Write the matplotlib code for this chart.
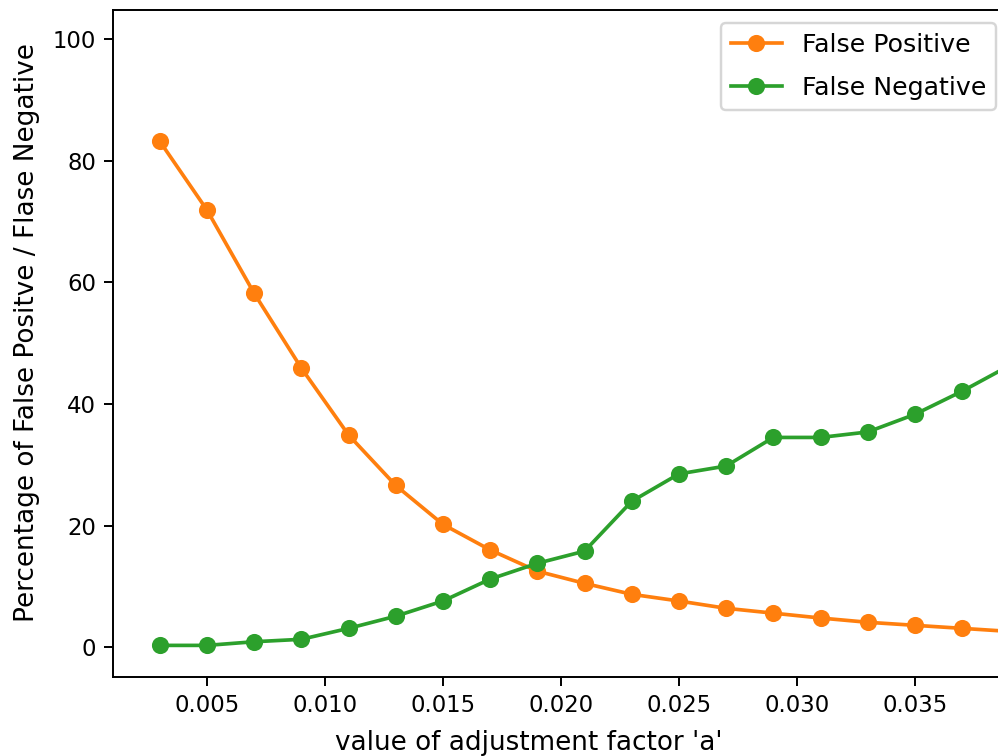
import matplotlib
matplotlib.use("Agg")
import matplotlib.pyplot as plt

# adjustment factor values and error percentages
a_values = [0.003, 0.005, 0.007, 0.009, 0.011, 0.013, 0.015, 0.017, 0.019, 0.021,
            0.023, 0.025, 0.027, 0.029, 0.031, 0.033, 0.035, 0.037, 0.039]
false_positive = [83.2, 71.9, 58.2, 45.9, 34.9, 26.6, 20.2, 16.0, 12.5, 10.5,
                  8.7, 7.6, 6.4, 5.6, 4.8, 4.1, 3.6, 3.1, 2.6]
false_negative = [0.3, 0.3, 0.9, 1.3, 3.1, 5.1, 7.6, 11.2, 13.8, 15.8,
                  24.0, 28.5, 29.8, 34.5, 34.5, 35.4, 38.3, 42.1, 46.3]
x_ticks = [0.005, 0.010, 0.015, 0.020, 0.025, 0.030, 0.035]
x_tick_labels = ["0.005", "0.010", "0.015", "0.020", "0.025", "0.030", "0.035"]

DPI = 176
fig = plt.figure(figsize=(998 / DPI, 756 / DPI), dpi=DPI)
# axes runs a little past the right edge of the picture, like the original crop
ax = fig.add_axes([113 / 998, 79 / 756, 893 / 998, 667 / 756])

ax.plot(a_values, false_positive, "o-", color="tab:orange", label="False Positive")
ax.plot(a_values, false_negative, "o-", color="tab:green", label="False Negative")

ax.set_xlim(0.001017, 0.03886)
ax.set_ylim(-4.9, 104.8)
ax.set_xticks(x_ticks)
ax.set_xticklabels(x_tick_labels)
ax.tick_params(labelsize=9.3)

ax.set_xlabel("value of adjustment factor 'a'", fontsize=10.75)
ax.xaxis.set_label_coords(0.466, -0.079)
ax.xaxis.label.set_va("top")
ax.set_ylabel("Percentage of False Positve / Flase Negative", fontsize=10.75)
ax.yaxis.set_label_coords(-0.0814, 0.517)
ax.legend(loc="upper right", fontsize=10.35, labelspacing=0.75,
          bbox_to_anchor=(1.0034, 1.0))

fig.savefig("out.png", dpi=DPI)
